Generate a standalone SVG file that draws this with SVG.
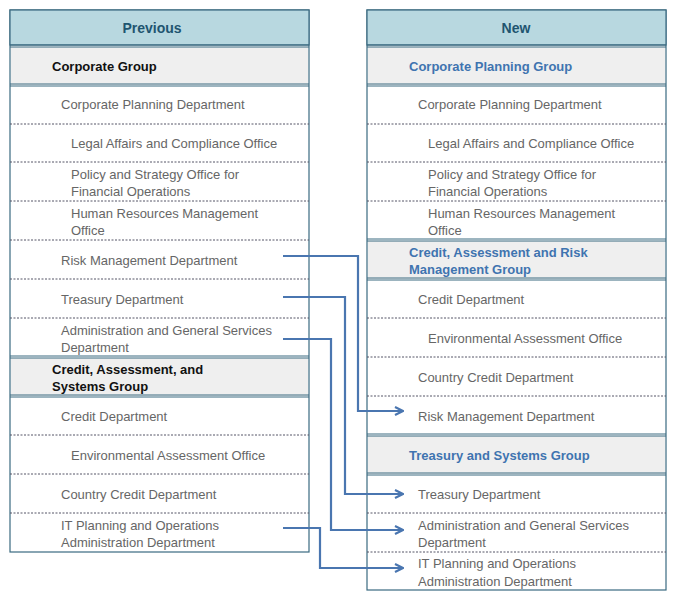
<svg xmlns="http://www.w3.org/2000/svg" width="681" height="599" viewBox="0 0 681 599">
<style>
.box{fill:#fff;stroke:#3a6a80;stroke-width:1.2}
.hd{fill:#b8d8e0;stroke:#3a6a80;stroke-width:1.2}
.gp{fill:#efefef}
.dl{stroke:#3a6a80;stroke-width:1}
.ds{stroke:#556;stroke-width:1;stroke-dasharray:2,1.5}
text{font-family:"Liberation Sans",Arial,sans-serif;font-size:13px;fill:#666}
.ht{font-weight:bold;fill:#1f5570;font-size:14px}
.gb{font-weight:bold;fill:#111}
.gbl{font-weight:bold;fill:#3f74b0}
.cn{fill:none;stroke:#4a76b0;stroke-width:2.2}
</style>
<defs><marker id="ar" markerWidth="10" markerHeight="10" refX="8" refY="5" orient="auto" markerUnits="userSpaceOnUse"><path d="M1,1 L9,5 L1,9" fill="none" stroke="#4a76b0" stroke-width="2.2"/></marker></defs>
<g id="previous">
<rect class="box" x="10" y="10" width="299" height="542"/>
<rect class="hd" x="10" y="10" width="299" height="35"/>
<text class="ht" x="152" y="33" text-anchor="middle">Previous</text>
<rect class="gp" x="11" y="47" width="297" height="38"/>
<rect class="gp" x="11" y="358" width="297" height="38"/>
<path class="dl" d="M10,45H309M10,47H309M10,84H309M10,86H309M10,356H309M10,358H309M10,395H309M10,397H309"/>
<path class="ds" d="M10,124H309M10,162H309M10,201H309M10,240H309M10,279H309M10,318H309M10,435H309M10,474H309M10,513H309"/>
<text class="gb" x="52" y="71">Corporate Group</text>
<text x="61" y="109">Corporate Planning Department</text>
<text x="71" y="148">Legal Affairs and Compliance Office</text>
<text x="71" y="179">Policy and Strategy Office for</text>
<text x="71" y="196">Financial Operations</text>
<text x="71" y="218">Human Resources Management</text>
<text x="71" y="235">Office</text>
<text x="61" y="265">Risk Management Department</text>
<text x="61" y="304">Treasury Department</text>
<text x="61" y="335">Administration and General Services</text>
<text x="61" y="352">Department</text>
<text class="gb" x="52" y="374">Credit, Assessment, and</text>
<text class="gb" x="52" y="391">Systems Group</text>
<text x="61" y="421">Credit Department</text>
<text x="71" y="460">Environmental Assessment Office</text>
<text x="61" y="499">Country Credit Department</text>
<text x="61" y="530">IT Planning and Operations</text>
<text x="61" y="547">Administration Department</text>
</g>
<g id="new">
<rect class="box" x="367" y="10" width="299" height="580"/>
<rect class="hd" x="367" y="10" width="299" height="35"/>
<text class="ht" x="516" y="33" text-anchor="middle">New</text>
<rect class="gp" x="368" y="47" width="297" height="38"/>
<rect class="gp" x="368" y="241" width="297" height="38"/>
<rect class="gp" x="368" y="436" width="297" height="38"/>
<path class="dl" d="M367,45H666M367,47H666M367,84H666M367,86H666M367,239H666M367,241H666M367,278H666M367,280H666M367,434H666M367,436H666M367,473H666M367,475H666"/>
<path class="ds" d="M367,124H666M367,162H666M367,201H666M367,318H666M367,357H666M367,396H666M367,513H666M367,552H666"/>
<text class="gbl" x="409" y="71">Corporate Planning Group</text>
<text x="418" y="109">Corporate Planning Department</text>
<text x="428" y="148">Legal Affairs and Compliance Office</text>
<text x="428" y="179">Policy and Strategy Office for</text>
<text x="428" y="196">Financial Operations</text>
<text x="428" y="218">Human Resources Management</text>
<text x="428" y="235">Office</text>
<text class="gbl" x="409" y="257">Credit, Assessment and Risk</text>
<text class="gbl" x="409" y="274">Management Group</text>
<text x="418" y="304">Credit Department</text>
<text x="428" y="343">Environmental Assessment Office</text>
<text x="418" y="382">Country Credit Department</text>
<text x="418" y="421">Risk Management Department</text>
<text class="gbl" x="409" y="460">Treasury and Systems Group</text>
<text x="418" y="499">Treasury Department</text>
<text x="418" y="530">Administration and General Services</text>
<text x="418" y="547">Department</text>
<text x="418" y="568">IT Planning and Operations</text>
<text x="418" y="586">Administration Department</text>
</g>
<g id="connectors">
<path class="cn" marker-end="url(#ar)" d="M283,256H358V411H402"/>
<path class="cn" marker-end="url(#ar)" d="M283,297H345V494H402"/>
<path class="cn" marker-end="url(#ar)" d="M283,339H331V530H402"/>
<path class="cn" marker-end="url(#ar)" d="M283,528H320V568H402"/>
</g>
</svg>
